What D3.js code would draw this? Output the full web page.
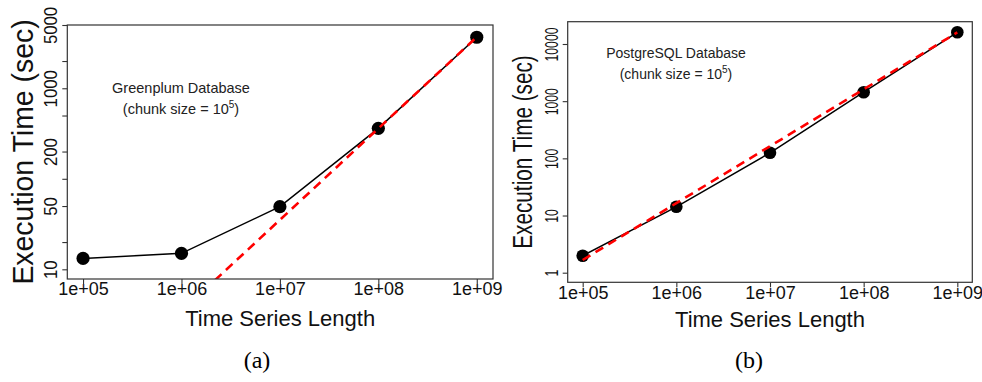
<!DOCTYPE html>
<html lang="en">
<head>
  <meta charset="UTF-8">
  <title>Execution Time vs Time Series Length</title>
  <script src="https://cdn.jsdelivr.net/npm/d3@7"></script>
  <style>
    body { margin: 0; background: #fff; }
    svg { display: block; font-family: "Liberation Sans", Arial, Helvetica, sans-serif; }
    .box { fill: none; stroke: #333; stroke-width: 1.2px; }
    .tick line { stroke: #333; stroke-width: 1.1px; }
    .tick text { fill: #111; font-size: 18px; }
    .series { fill: none; stroke: #000; stroke-width: 1.5px; }
    .fit { fill: none; stroke: #ff0000; stroke-width: 2.6px; stroke-dasharray: 9 6; }
    .note { fill: #222; text-anchor: middle; }
    .title { fill: #111; text-anchor: middle; }
    .caption { font-family: "Liberation Serif", "DejaVu Serif", serif; font-size: 24px; text-anchor: middle; }
  </style>
</head>
<body>
  <svg width="982" height="382"></svg>
  <script>
    // data
    const lengths = [1e5, 1e6, 1e7, 1e8, 1e9];
    const xTickLabels = ["1e+05", "1e+06", "1e+07", "1e+08", "1e+09"];

    const greenplumTimes = [13.2, 15.0, 49.2, 361, 3660];
    const postgresTimes = [1.98, 14.2, 125, 1436, 16020];

    // fitted power law: log10(time) = intercept + slope * log10(length)
    const greenplumFit = { intercept: -5.524, slope: 1.01 };
    const postgresFit = { intercept: -4.753, slope: 0.995 };

    const greenplumYTicks = [10, 20, 50, 100, 200, 500, 1000, 2000, 5000];
    const greenplumYLabels = [10, 50, 200, 1000, 5000];
    const postgresYTicks = [1, 10, 100, 1000, 10000];
    const postgresYLabels = [1, 10, 100, 1000, 10000];

    const panels = [
      {
        id: "a", name: "Greenplum Database", times: greenplumTimes, fit: greenplumFit,
        yTicks: greenplumYTicks, yLabels: greenplumYLabels,
        box: { x0: 67.3, x1: 493, y0: 25, y1: 279 },
        xDomain: [10 ** 4.84, 10 ** 9.165], yDomain: [10 ** 0.893, 5000],
        r: 6.6, xLabelDy: 16, yLabelK: 0.93,
        yTitle: { x: 33, size: 29, k: 0.98 }, xTitleY: 325.7,
        note: { x: 181, y: 93.3, size: 14.5 }, caption: { x: 257, y: 367.5 }
      },
      {
        id: "b", name: "PostgreSQL Database", times: postgresTimes, fit: postgresFit,
        yTicks: postgresYTicks, yLabels: postgresYLabels,
        box: { x0: 567.7, x1: 972.3, y0: 21.7, y1: 282.3 },
        xDomain: [10 ** 4.84, 10 ** 9.16], yDomain: [10 ** -0.168, 10 ** 4.39],
        r: 6.3, xLabelDy: 16.7, yLabelK: 0.68,
        yTitle: { x: 531.5, size: 28, k: 0.74 }, xTitleY: 326.7,
        note: { x: 676, y: 58.3, size: 14 }, caption: { x: 749, y: 367.5 }
      }
    ];

    const svg = d3.select("svg");

    panels.forEach((p) => {
      const g = svg.append("g").attr("class", "panel-" + p.id);
      const b = p.box;
      const x = d3.scaleLog().domain(p.xDomain).range([b.x0, b.x1]);
      const y = d3.scaleLog().domain(p.yDomain).range([b.y1, b.y0]);

      // x axis
      const xAxis = g.append("g")
        .attr("transform", `translate(0,${b.y1})`)
        .call(d3.axisBottom(x).tickValues(lengths)
          .tickFormat((d, i) => xTickLabels[i]).tickSize(5));
      xAxis.select(".domain").remove();
      xAxis.selectAll(".tick text").attr("y", p.xLabelDy).attr("dy", 0);

      // y axis, labels parallel to the axis
      const yAxis = g.append("g")
        .attr("transform", `translate(${b.x0},0)`)
        .call(d3.axisLeft(y).tickValues(p.yTicks)
          .tickFormat((d) => (p.yLabels.includes(d) ? String(d) : "")).tickSize(5));
      yAxis.select(".domain").remove();
      yAxis.selectAll(".tick text")
        .attr("x", 0).attr("dy", 0)
        .attr("text-anchor", "middle")
        .attr("transform", `translate(-10,0) rotate(-90) scale(${p.yLabelK},1)`);

      // clip for the fit line
      g.append("clipPath").attr("id", "clip-" + p.id)
        .append("rect")
        .attr("x", b.x0).attr("y", b.y0)
        .attr("width", b.x1 - b.x0).attr("height", b.y1 - b.y0);

      const line = d3.line().x((d) => x(d[0])).y((d) => y(d[1]));
      const observed = lengths.map((L, i) => [L, p.times[i]]);
      const fitted = lengths.map((L) => [L, 10 ** (p.fit.intercept + p.fit.slope * Math.log10(L))]);

      g.append("path").attr("class", "series").attr("d", line(observed));

      g.selectAll("circle.pt")
        .data(observed)
        .enter()
        .append("circle")
        .attr("class", "pt")
        .attr("cx", (d) => x(d[0]))
        .attr("cy", (d) => y(d[1]))
        .attr("r", p.r)
        .attr("fill", "#000");

      g.append("path").attr("class", "fit")
        .attr("clip-path", `url(#clip-${p.id})`)
        .attr("d", line(fitted));

      g.append("rect").attr("class", "box")
        .attr("x", b.x0).attr("y", b.y0)
        .attr("width", b.x1 - b.x0).attr("height", b.y1 - b.y0);

      // note inside the plot
      g.append("text").attr("class", "note")
        .attr("x", p.note.x).attr("y", p.note.y)
        .style("font-size", p.note.size + "px")
        .text(p.name);
      const chunk = g.append("text").attr("class", "note")
        .attr("x", p.note.x).attr("y", p.note.y + 21)
        .style("font-size", p.note.size + "px");
      chunk.append("tspan").text("(chunk size = 10");
      chunk.append("tspan").attr("dy", -6).style("font-size", "10px").text("5");
      chunk.append("tspan").attr("dy", 6).text(")");

      // axis titles
      g.append("text").attr("class", "title")
        .attr("x", (b.x0 + b.x1) / 2).attr("y", p.xTitleY)
        .style("font-size", "22px")
        .text("Time Series Length");
      g.append("text").attr("class", "title")
        .attr("transform", `translate(${p.yTitle.x},${(b.y0 + b.y1) / 2}) rotate(-90) scale(${p.yTitle.k},1)`)
        .style("font-size", p.yTitle.size + "px")
        .text("Execution Time (sec)");

      g.append("text").attr("class", "caption")
        .attr("x", p.caption.x).attr("y", p.caption.y)
        .text(`(${p.id})`);
    });
  </script>
</body>
</html>
